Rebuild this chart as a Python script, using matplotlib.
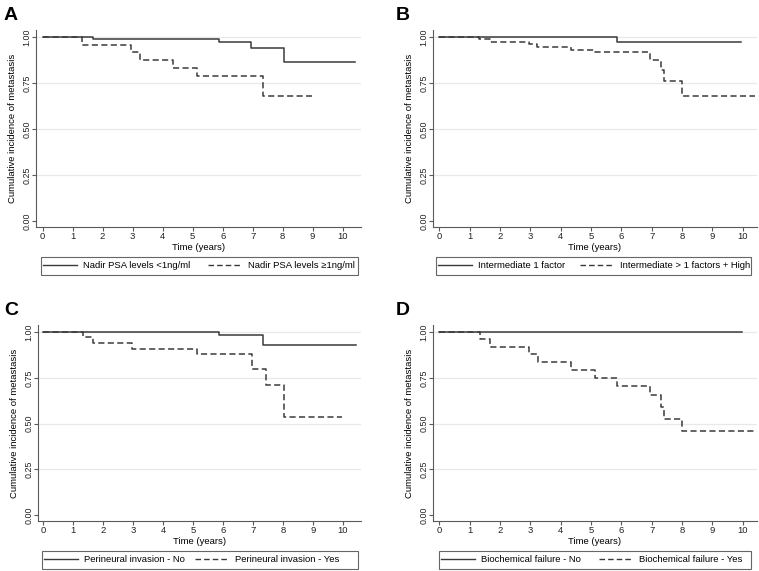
import matplotlib
matplotlib.use("Agg")
import matplotlib.pyplot as plt
from matplotlib.lines import Line2D
from matplotlib.patches import Rectangle

plt.rcParams['font.family'] = ['Liberation Sans', 'DejaVu Sans']

W, H = 759, 571

# Panel A - nadir PSA
A_solid_t = [0, 1.68, 5.87, 6.95, 8.03, 10.42]
A_solid_s = [1.0, 0.989, 0.975, 0.94, 0.863, 0.863]
A_dash_t = [0, 1.32, 2.95, 3.25, 4.33, 5.15, 7.33, 8.98]
A_dash_s = [1.0, 0.957, 0.917, 0.873, 0.833, 0.79, 0.678, 0.678]
A_labels = ["Nadir PSA levels <1ng/ml", "Nadir PSA levels \u22651ng/ml"]

# Panel B - risk group
B_solid_t = [0, 5.85, 9.93]
B_solid_s = [1.0, 0.975, 0.975]
B_dash_t = [0, 1.3, 1.68, 2.96, 3.22, 4.35, 5.13, 6.93, 7.3, 7.4, 8.0, 10.4]
B_dash_s = [1.0, 0.989, 0.975, 0.962, 0.945, 0.931, 0.916, 0.874, 0.82, 0.759, 0.677, 0.677]
B_labels = ["Intermediate 1 factor", "Intermediate > 1 factors + High"]

# Panel C - perineural invasion
C_solid_t = [0, 5.87, 7.32, 10.42]
C_solid_s = [1.0, 0.984, 0.928, 0.928]
C_dash_t = [0, 1.32, 1.66, 2.97, 5.14, 6.95, 7.42, 8.02, 9.98]
C_dash_s = [1.0, 0.971, 0.942, 0.909, 0.879, 0.80, 0.712, 0.534, 0.534]
C_labels = ["Perineural invasion - No", "Perineural invasion - Yes"]

# Panel D - biochemical failure
D_solid_t = [0, 9.97]
D_solid_s = [1.0, 1.0]
D_dash_t = [0, 1.33, 1.67, 2.97, 3.26, 4.33, 5.13, 5.87, 6.94, 7.3, 7.4, 8.0, 10.41]
D_dash_s = [1.0, 0.962, 0.918, 0.877, 0.837, 0.795, 0.75, 0.705, 0.657, 0.59, 0.524, 0.462, 0.462]
D_labels = ["Biochemical failure - No", "Biochemical failure - Yes"]

x_ticks = list(range(0, 11))
y_ticks = [0.0, 0.25, 0.5, 0.75, 1.0]
y_ticklabels = ["0.00", "0.25", "0.50", "0.75", "1.00"]

LINE = '#3a3a3a'
AXC = '#5a5a5a'
GRID = '#e8e8e8'
LEG_FS = 6.8
FS_PX = LEG_FS * 100 / 72


def px_axes(fig, left, top, right, bottom):
    return fig.add_axes([left / W, 1 - bottom / H, (right - left) / W, (bottom - top) / H])


def draw_panel(fig, box, legbox, colgap, letter, letter_xy, st, ss, dt, ds, labels, xlim):
    ax = px_axes(fig, *box)
    for y in [0.25, 0.5, 0.75, 1.0]:
        ax.axhline(y, color=GRID, lw=0.9, zorder=0)
    ax.step(st, ss, where='post', color=LINE, lw=1.1, zorder=3)
    ax.step(dt, ds, where='post', color=LINE, lw=1.1, dashes=(4, 2.2), zorder=3)
    ax.set_xlim(*xlim)
    ax.set_ylim(-0.032, 1.038)
    ax.set_xticks(x_ticks)
    ax.set_yticks(y_ticks)
    ax.set_yticklabels(y_ticklabels, rotation=90, va='center')
    ax.tick_params(colors='#222222', length=3, width=0.8)
    ax.tick_params(axis='x', pad=0.8, labelsize=6.8)
    ax.tick_params(axis='y', pad=0.3, labelsize=6.4)
    ax.tick_params(axis='both', color=AXC)
    for s in ['top', 'right']:
        ax.spines[s].set_visible(False)
    for s in ['left', 'bottom']:
        ax.spines[s].set_color(AXC)
        ax.spines[s].set_linewidth(0.8)
    ax.set_xlabel("Time (years)", fontsize=6.8, labelpad=1.5)
    ax.set_ylabel("Cumulative incidence of metastasis", fontsize=6.8, labelpad=4)

    # legend frame drawn as a figure rectangle, entries placed inside
    l, t, r, b = legbox
    fig.patches.append(Rectangle((l / W, 1 - b / H), (r - l) / W, (b - t) / H,
                                 transform=fig.transFigure, fill=False,
                                 edgecolor='#666666', lw=0.8))
    handles = [Line2D([], [], color=LINE, lw=1.0),
               Line2D([], [], color=LINE, lw=1.0, dashes=(4, 2.2))]
    ax.legend(handles, labels, loc='center left', ncol=2,
              bbox_to_anchor=((l + 2) / W, 1 - (t + b) / 2 / H),
              bbox_transform=fig.transFigure, fontsize=LEG_FS, frameon=False,
              handlelength=34 / FS_PX, handletextpad=6 / FS_PX, borderpad=0,
              borderaxespad=0, columnspacing=colgap / FS_PX)
    fig.text(letter_xy[0] / W, 1 - letter_xy[1] / H, letter, fontsize=14,
             fontweight='bold', ha='left', va='top')
    return ax


fig = plt.figure(figsize=(W / 100, H / 100), dpi=100)

draw_panel(fig, (36, 30, 361, 227), (41, 257, 358, 275), 18, "A", (4, 7),
           A_solid_t, A_solid_s, A_dash_t, A_dash_s, A_labels, (-0.22, 10.61))
draw_panel(fig, (433, 30, 757, 227), (436, 257, 751, 275), 15, "B", (396, 7),
           B_solid_t, B_solid_s, B_dash_t, B_dash_s, B_labels, (-0.21, 10.47))
draw_panel(fig, (38, 325, 361, 521), (42, 551, 358, 569), 10, "C", (4, 302),
           C_solid_t, C_solid_s, C_dash_t, C_dash_s, C_labels, (-0.18, 10.6))
draw_panel(fig, (433, 325, 757, 521), (439, 551, 751, 569), 18, "D", (396, 302),
           D_solid_t, D_solid_s, D_dash_t, D_dash_s, D_labels, (-0.21, 10.47))

fig.savefig("out.png", dpi=100, facecolor='white')
